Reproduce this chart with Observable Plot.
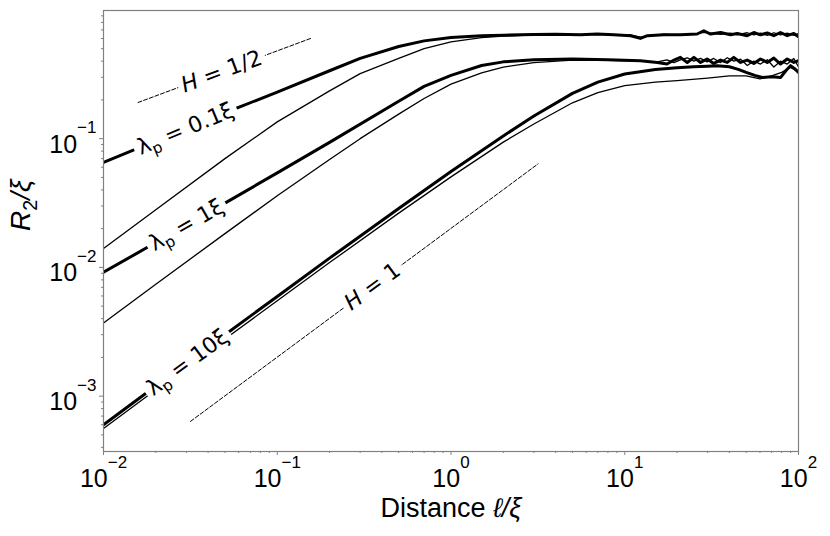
<!DOCTYPE html>
<html>
<head>
<meta charset="utf-8">
<script src="https://cdn.jsdelivr.net/npm/d3@7"></script>
<script src="https://cdn.jsdelivr.net/npm/@observablehq/plot@0.6"></script>
<style>
  html, body { margin: 0; padding: 0; background: #fff; }
</style>
</head>
<body>
<div id="chart"></div>
<script>
// ---- ticks ----
const xMajor = [0.01, 0.1, 1, 10, 100];
const xTickLabels = ["10^{−2}", "10^{−1}", "10^{0}", "10^{1}", "10^{2}"];
const xMinor = [0.02,0.03,0.04,0.05,0.06,0.07,0.08,0.09, 0.2,0.3,0.4,0.5,0.6,0.7,0.8,0.9, 2,3,4,5,6,7,8,9, 20,30,40,50,60,70,80,90];
const yMajor = [0.001, 0.01, 0.1];
const yTickLabels = ["10^{−3}", "10^{−2}", "10^{−1}"];
const yMinor = [0.0004,0.0005,0.0006,0.0007,0.0008,0.0009, 0.002,0.003,0.004,0.005,0.006,0.007,0.008,0.009, 0.02,0.03,0.04,0.05,0.06,0.07,0.08,0.09, 0.2,0.3,0.4,0.5,0.6,0.7,0.8,0.9];

// ---- series: λp = 0.1ξ ----
const lp01ThickX = [0.01, 0.02, 0.05, 0.1, 0.2, 0.3, 0.5, 0.7, 1, 1.5, 2, 3, 4, 5.56, 6.94, 8.65, 10.8, 12.3, 13.5, 16.8, 20.9, 26.1, 28.5, 31.2, 35.6, 40.6, 44.4, 50.7, 55.3, 60.4, 66.1, 72.1, 78.7, 86.1, 94.0, 100];
const lp01ThickY = [0.0655, 0.096, 0.159, 0.23, 0.337, 0.42, 0.52, 0.575, 0.61, 0.63, 0.637, 0.645, 0.648, 0.641, 0.650, 0.641, 0.631, 0.601, 0.631, 0.641, 0.641, 0.650, 0.689, 0.650, 0.668, 0.641, 0.657, 0.631, 0.668, 0.641, 0.662, 0.631, 0.668, 0.631, 0.657, 0.620];
const lp01ThinX = [0.01, 0.02, 0.05, 0.1, 0.2, 0.3, 0.5, 0.7, 1, 1.5, 2, 3, 4, 5.56, 6.94, 8.65, 10.8, 12.3, 13.5, 16.8, 20.9, 26.1, 28.5, 31.2, 35.6, 40.6, 44.4, 50.7, 55.3, 60.4, 66.1, 72.1, 78.7, 86.1, 94.0, 100];
const lp01ThinY = [0.014, 0.028, 0.07, 0.135, 0.235, 0.32, 0.42, 0.5, 0.565, 0.61, 0.625, 0.64, 0.645, 0.64, 0.645, 0.637, 0.64, 0.615, 0.625, 0.648, 0.635, 0.655, 0.67, 0.66, 0.645, 0.66, 0.64, 0.665, 0.64, 0.66, 0.635, 0.665, 0.64, 0.66, 0.635, 0.655];

// ---- series: λp = 1ξ ----
const lp1ThickX = [0.01, 0.02, 0.05, 0.1, 0.2, 0.5, 0.7, 1, 1.5, 2, 3, 5, 8, 12.3, 15.4, 17.5, 19.2, 20.9, 22.9, 25.0, 27.3, 29.8, 32.5, 35.6, 38.9, 42.4, 46.4, 50.7, 55.3, 60.4, 66.1, 72.1, 78.8, 86.1, 94.0, 100];
const lp1ThickY = [0.00916, 0.0156, 0.0316, 0.0542, 0.0936, 0.195, 0.255, 0.31, 0.37, 0.395, 0.41, 0.415, 0.41, 0.403, 0.391, 0.380, 0.408, 0.428, 0.391, 0.428, 0.391, 0.416, 0.384, 0.408, 0.391, 0.428, 0.391, 0.408, 0.384, 0.416, 0.391, 0.423, 0.380, 0.416, 0.391, 0.403];
const lp1ThinX = [0.01, 0.02, 0.05, 0.1, 0.2, 0.3, 0.5, 0.7, 1, 1.5, 2, 3, 5, 8, 12.3, 15.4, 17.5, 19.2, 20.9, 22.9, 25.0, 27.3, 29.8, 32.5, 35.6, 38.9, 42.4, 46.4, 50.7, 55.3, 60.4, 66.1, 72.1, 78.8, 86.1, 94.0, 100];
const lp1ThinY = [0.0037, 0.0074, 0.0183, 0.036, 0.069, 0.1, 0.155, 0.205, 0.265, 0.325, 0.36, 0.39, 0.408, 0.405, 0.40, 0.395, 0.41, 0.39, 0.41, 0.425, 0.40, 0.42, 0.395, 0.42, 0.39, 0.425, 0.40, 0.415, 0.37, 0.40, 0.38, 0.41, 0.36, 0.40, 0.38, 0.42, 0.36];

// ---- series: λp = 10ξ ----
const lp10ThickX = [0.01, 0.02, 0.05, 0.1, 0.2, 0.5, 1, 2, 3, 5, 7, 10, 15, 20, 25, 30, 34, 40, 45, 50, 56, 62, 70, 79, 85, 90, 95, 100];
const lp10ThickY = [6.0e-4, 1.2e-3, 3.0e-3, 5.95e-3, 1.18e-2, 2.87e-2, 0.0555, 0.105, 0.15, 0.225, 0.275, 0.318, 0.345, 0.355, 0.362, 0.366, 0.369, 0.362, 0.345, 0.327, 0.31, 0.299, 0.303, 0.299, 0.34, 0.369, 0.35, 0.327];
const lp10ThinX = [0.01, 0.02, 0.05, 0.1, 0.2, 0.5, 1, 2, 3, 5, 7, 10, 15, 20, 30, 40, 50, 60, 70, 80, 90, 100];
const lp10ThinY = [5.6e-4, 1.12e-3, 2.78e-3, 5.5e-3, 1.09e-2, 2.64e-2, 0.0505, 0.094, 0.13, 0.19, 0.228, 0.258, 0.275, 0.282, 0.295, 0.307, 0.308, 0.291, 0.308, 0.327, 0.358, 0.33];

// ---- guide lines (slopes H = 1/2 and H = 1) ----
const h12X = [0.0158, 0.158];
const h12Y = [0.191, 0.605];
const h1X = [0.0317, 3.17];
const h1Y = [6.37e-4, 0.0637];

// ---- inline labels ----
const labelText = ["*H* = 1/2", "λ_{p} = 0.1ξ", "λ_{p} = 1ξ", "λ_{p} = 10ξ", "*H* = 1"];
const labelX = [0.0478, 0.0296, 0.030, 0.0304, 0.353];
const labelY = [0.332, 0.119, 0.02135, 0.001824, 0.0071];
const labelAngle = [-20.3, -22.5, -29.7, -36.5, -36.5];

// ---- axis titles ----
const xTitle = "Distance *ℓ/ξ*";
const yTitle = "*R*_{2}*/ξ*";

function rows(xs, ys) {
  const n = Math.min(xs.length, ys.length);
  return d3.range(n).map(i => ({x: xs[i], y: ys[i]}));
}
const labels = labelText.map((t, i) => ({t, x: labelX[i], y: labelY[i], a: labelAngle[i]}));
const xFmt = new Map(xMajor.map((v, i) => [v, xTickLabels[i]]));
const yFmt = new Map(yMajor.map((v, i) => [v, yTickLabels[i]]));
const plain = s => s.replace(/\*|_\{|\^\{|\}/g, "");
const labelPlain = new Set(labelText.map(plain));

const tickColor = "#808080";

const svg = Plot.plot({
  width: 830,
  height: 536,
  marginLeft: 103,
  marginRight: 32,
  marginTop: 10,
  marginBottom: 85,
  style: {fontFamily: "'Liberation Sans', Arial, sans-serif", background: "white", color: "black"},
  x: {type: "log", domain: [0.01, 100], label: null},
  y: {type: "log", domain: [3.715e-4, 0.99], label: null},
  marks: [
    Plot.axisX(xMinor, {tickSize: 2, tickFormat: () => "", stroke: tickColor, label: null}),
    Plot.axisX(xMajor, {tickSize: 4, tickFormat: () => "", stroke: tickColor, label: null}),
    Plot.axisX(xMajor, {tickSize: 0, tickPadding: 18, fontSize: 25, fill: "black", tickFormat: d => xFmt.get(d), label: null}),
    Plot.axisY(yMinor, {tickSize: 2, tickFormat: () => "", stroke: tickColor, label: null}),
    Plot.axisY(yMajor, {tickSize: 4, tickFormat: () => "", stroke: tickColor, label: null}),
    Plot.axisY(yMajor, {tickSize: 0, tickPadding: 7, dy: 6, fontSize: 25, fill: "black", tickFormat: d => yFmt.get(d), label: null}),

    Plot.line(rows(h12X, h12Y), {x: "x", y: "y", stroke: "black", strokeWidth: 1, strokeDasharray: "4,2"}),
    Plot.line(rows(h1X, h1Y), {x: "x", y: "y", stroke: "black", strokeWidth: 1, strokeDasharray: "4,2"}),

    Plot.line(rows(lp01ThinX, lp01ThinY), {x: "x", y: "y", stroke: "black", strokeWidth: 1.3, clip: true}),
    Plot.line(rows(lp01ThickX, lp01ThickY), {x: "x", y: "y", stroke: "black", strokeWidth: 3, clip: true}),
    Plot.line(rows(lp1ThinX, lp1ThinY), {x: "x", y: "y", stroke: "black", strokeWidth: 1.3, clip: true}),
    Plot.line(rows(lp1ThickX, lp1ThickY), {x: "x", y: "y", stroke: "black", strokeWidth: 3, clip: true}),
    Plot.line(rows(lp10ThinX, lp10ThinY), {x: "x", y: "y", stroke: "black", strokeWidth: 1.3, clip: true}),
    Plot.line(rows(lp10ThickX, lp10ThickY), {x: "x", y: "y", stroke: "black", strokeWidth: 3, clip: true}),

    Plot.text(labels, {x: "x", y: "y", text: "t", rotate: "a", fontSize: 22, fontFamily: "'DejaVu Sans', sans-serif", fill: "black"}),

    Plot.text([xTitle], {text: d => d, frameAnchor: "bottom", dy: 65, fontSize: 27, fill: "black"}),
    Plot.text([yTitle], {text: d => d, frameAnchor: "left", dx: -82, rotate: -90, fontSize: 28, fill: "black"}),

    Plot.frame({stroke: tickColor, strokeWidth: 1.2})
  ]
});

// rich text: *italic*, _{sub}, ^{sup}
function rich(node, s) {
  const base = parseFloat(window.getComputedStyle(node).fontSize) || 20;
  node.textContent = "";
  const re = /\*([^*]+)\*|_\{([^}]*)\}|\^\{([^}]*)\}|([^*_^]+)/g;
  let m, shift = 0;
  while ((m = re.exec(s))) {
    const ts = document.createElementNS("http://www.w3.org/2000/svg", "tspan");
    let target = 0;
    if (m[1] !== undefined) { ts.textContent = m[1]; ts.setAttribute("font-style", "italic"); }
    else if (m[2] !== undefined) { ts.textContent = m[2]; ts.setAttribute("font-size", (0.7 * base) + "px"); target = 0.22 * base; }
    else if (m[3] !== undefined) { ts.textContent = m[3]; ts.setAttribute("font-size", (0.68 * base) + "px"); target = -0.78 * base; }
    else { ts.textContent = m[4]; }
    if (target !== shift) { ts.setAttribute("dy", (target - shift) + "px"); shift = target; }
    node.appendChild(ts);
  }
}
document.getElementById("chart").appendChild(svg);
svg.querySelectorAll("text").forEach(node => {
  const t = node.textContent;
  if (/\^\{|_\{|\*/.test(t)) rich(node, t);
});
// white gap behind the inline curve labels (breaks the lines as in the original)
svg.querySelectorAll("text").forEach(node => {
  if (!labelPlain.has(node.textContent)) return;
  const bb = node.getBBox();
  const r = document.createElementNS("http://www.w3.org/2000/svg", "rect");
  r.setAttribute("x", bb.x - 4);
  r.setAttribute("y", bb.y + bb.height * 0.12);
  r.setAttribute("width", bb.width + 8);
  r.setAttribute("height", bb.height * 0.76);
  r.setAttribute("fill", "white");
  const tr = node.getAttribute("transform");
  if (tr) r.setAttribute("transform", tr);
  node.parentNode.insertBefore(r, node);
});
</script>
</body>
</html>
